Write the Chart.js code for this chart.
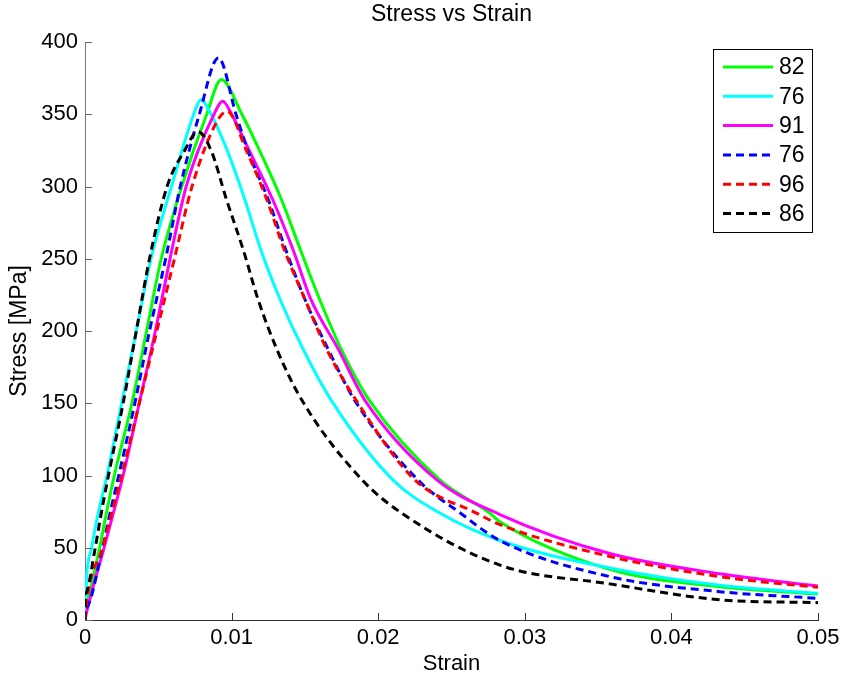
<!DOCTYPE html>
<html>
<head>
<meta charset="utf-8">
<script src="https://cdn.jsdelivr.net/npm/chart.js@4/dist/chart.umd.min.js"></script>
<style>
  body { margin: 0; background: #fff; }
</style>
</head>
<body>
<canvas id="stressChart" width="846" height="676"></canvas>
<script>
// readings: strain (-) and stress (MPa) per specimen
const labels = ["82", "76", "91", "76", "96", "86"];

const strainA = [0, 0, 0.0010, 0.00136, 0.0020, 0.0032, 0.0042, 0.0052, 0.0066, 0.0083, 0.0093, 0.0107, 0.0119, 0.0134, 0.0147, 0.0160, 0.0175, 0.0194, 0.0242, 0.0276, 0.0283, 0.0358, 0.0433, 0.0500];
const stressA = [0, 14, 50, 69, 100, 150, 200, 250, 300, 350, 374, 350, 325, 291, 256, 222, 187, 152, 97, 74, 68, 35, 23, 18];

const strainB = [0, 0.0001, 0.00045, 0.0008, 0.0015, 0.0025, 0.0035, 0.0045, 0.0059, 0.0076, 0.0079, 0.0086, 0.0097, 0.0109, 0.0120, 0.0133, 0.0149, 0.0168, 0.0210, 0.0242, 0.0283, 0.0358, 0.0433, 0.0500];
const stressB = [0, 28, 50, 69, 100, 150, 200, 250, 300, 355, 360, 350, 325, 291, 256, 222, 187, 152, 97, 74, 55, 36, 24, 18.5];

const strainC = [0, 0.0001, 0.0013, 0.0018, 0.0026, 0.0037, 0.0048, 0.0058, 0.0069, 0.0088, 0.0094, 0.0100, 0.0112, 0.0128, 0.0142, 0.0154, 0.0173, 0.0191, 0.0240, 0.0283, 0.0358, 0.0433, 0.0500];
const stressC = [0, 5, 50, 69, 100, 150, 200, 250, 300, 350, 359, 350, 325, 291, 256, 222, 187, 152, 97, 73, 46, 32, 23.5];

const strainD = [0, 0, 0.0012, 0.0016, 0.0023, 0.0034, 0.0044, 0.0055, 0.0065, 0.0078, 0.0091, 0.0103, 0.0111, 0.0125, 0.0137, 0.0150, 0.0166, 0.0184, 0.0227, 0.0256, 0.0283, 0.0358, 0.0433, 0.0500];
const stressD = [0, 8, 50, 69, 100, 150, 200, 250, 300, 350, 389, 350, 325, 291, 256, 222, 187, 152, 97, 74, 55, 30, 19.6, 15];

const strainE = [0, 0.0001, 0.0012, 0.0017, 0.0025, 0.0037, 0.0049, 0.0061, 0.0073, 0.0090, 0.0097, 0.0110, 0.0124, 0.0136, 0.0150, 0.0165, 0.0185, 0.0225, 0.0267, 0.0283, 0.0358, 0.0433, 0.0500];
const stressE = [0, 12, 50, 69, 100, 150, 200, 250, 300, 345, 352, 325, 291, 256, 222, 187, 152, 97, 74, 66, 44, 30, 22.6];

const strainF = [0, 0, 0.0007, 0.00102, 0.0016, 0.0026, 0.0035, 0.0044, 0.0056, 0.0068, 0.0077, 0.0086, 0.00965, 0.0108, 0.0118, 0.0131, 0.0148, 0.0189, 0.0216, 0.0283, 0.0358, 0.0433, 0.0500];
const stressF = [0, 18, 50, 69, 100, 150, 200, 250, 300, 325, 338, 325, 291, 256, 222, 187, 152, 97, 74, 38, 25, 14, 12];

const xTicks = [0, 0.01, 0.02, 0.03, 0.04, 0.05];
const yTicks = [0, 50, 100, 150, 200, 250, 300, 350, 400];

const FONT = "'Liberation Sans', Arial, sans-serif";

const series = [
  { label: labels[0], x: strainA, y: stressA, color: "#00ff00", dash: [] },
  { label: labels[1], x: strainB, y: stressB, color: "#00ffff", dash: [] },
  { label: labels[2], x: strainC, y: stressC, color: "#ff00ff", dash: [] },
  { label: labels[3], x: strainD, y: stressD, color: "#0000ff", dash: [8, 5] },
  { label: labels[4], x: strainE, y: stressE, color: "#ff0000", dash: [8, 5] },
  { label: labels[5], x: strainF, y: stressF, color: "#000000", dash: [8, 5] },
];

// title, inward ticks and the boxed legend, matlab style
const matlabBits = {
  id: "matlabBits",
  afterDraw(chart) {
    const ctx = chart.ctx;
    const area = chart.chartArea;
    const xs = chart.scales.x;
    const ys = chart.scales.y;
    ctx.save();

    ctx.fillStyle = "#000";
    ctx.font = "23px " + FONT;
    ctx.textAlign = "center";
    ctx.textBaseline = "middle";
    ctx.fillText("Stress vs Strain", (area.left + area.right) / 2, 15);

    ctx.lineWidth = 1;
    ctx.strokeStyle = "#333";
    xTicks.forEach(v => {
      const px = Math.round(xs.getPixelForValue(v)) + 0.5;
      ctx.beginPath();
      ctx.moveTo(px, area.bottom);
      ctx.lineTo(px, area.bottom - 7);
      ctx.stroke();
    });
    ctx.strokeStyle = "#666";
    yTicks.forEach(v => {
      const py = Math.round(ys.getPixelForValue(v)) + 0.5;
      ctx.beginPath();
      ctx.moveTo(area.left, py);
      ctx.lineTo(area.left + 7, py);
      ctx.stroke();
    });

    // legend
    const bx = 713, by = 49, bw = 99, bh = 183;
    ctx.fillStyle = "#fff";
    ctx.fillRect(bx, by, bw, bh);
    ctx.strokeStyle = "#000";
    ctx.lineWidth = 1;
    ctx.strokeRect(bx + 0.5, by + 0.5, bw, bh);
    ctx.font = "23px " + FONT;
    ctx.textAlign = "left";
    series.forEach((s, i) => {
      const ly = 67 + i * 29.3;
      ctx.strokeStyle = s.color;
      ctx.lineWidth = 3;
      ctx.setLineDash(s.dash);
      ctx.beginPath();
      ctx.moveTo(723, ly);
      ctx.lineTo(773, ly);
      ctx.stroke();
      ctx.setLineDash([]);
      ctx.fillStyle = "#000";
      ctx.fillText(s.label, 779, ly + 1);
    });
    ctx.restore();
  }
};

const datasets = series.map((s, i) => ({
  label: s.label,
  data: s.x.map((v, k) => ({ x: v, y: s.y[k] })),
  borderColor: s.color,
  borderWidth: 3,
  borderDash: s.dash,
  pointRadius: 0,
  fill: false,
  cubicInterpolationMode: "monotone",
  order: series.length - i,
}));

const ctx = document.getElementById("stressChart");
new Chart(ctx, {
  type: "line",
  data: { datasets: datasets },
  options: {
    responsive: false,
    animation: false,
    layout: { padding: { top: 42, right: 28, left: 0, bottom: 0 } },
    scales: {
      x: {
        type: "linear",
        min: 0,
        max: 0.05,
        afterFit: s => { s.height = 56; },
        afterBuildTicks: s => { s.ticks = xTicks.map(v => ({ value: v })); },
        grid: { drawOnChartArea: false, drawTicks: false },
        border: { display: true, color: "#333", width: 1 },
        ticks: {
          padding: 5,
          color: "#000",
          font: { family: FONT, size: 22 },
          callback: v => v === 0 ? "0" : v.toFixed(2),
        },
        title: {
          display: true,
          text: "Strain",
          color: "#000",
          font: { family: FONT, size: 22, lineHeight: 1 },
          padding: { top: 0, bottom: 1 },
        },
      },
      y: {
        min: 0,
        max: 400,
        afterFit: s => { s.width = 85; },
        afterBuildTicks: s => { s.ticks = yTicks.map(v => ({ value: v })); },
        grid: { drawOnChartArea: false, drawTicks: false },
        border: { display: true, color: "#777", width: 1 },
        ticks: {
          padding: 7,
          color: "#000",
          font: { family: FONT, size: 22 },
        },
        title: {
          display: true,
          text: "Stress [MPa]",
          color: "#000",
          font: { family: FONT, size: 23, lineHeight: 1 },
          padding: { top: 8, bottom: 0 },
        },
      },
    },
    plugins: {
      legend: { display: false },
      tooltip: { enabled: false },
    },
  },
  plugins: [matlabBits],
});
</script>
</body>
</html>
